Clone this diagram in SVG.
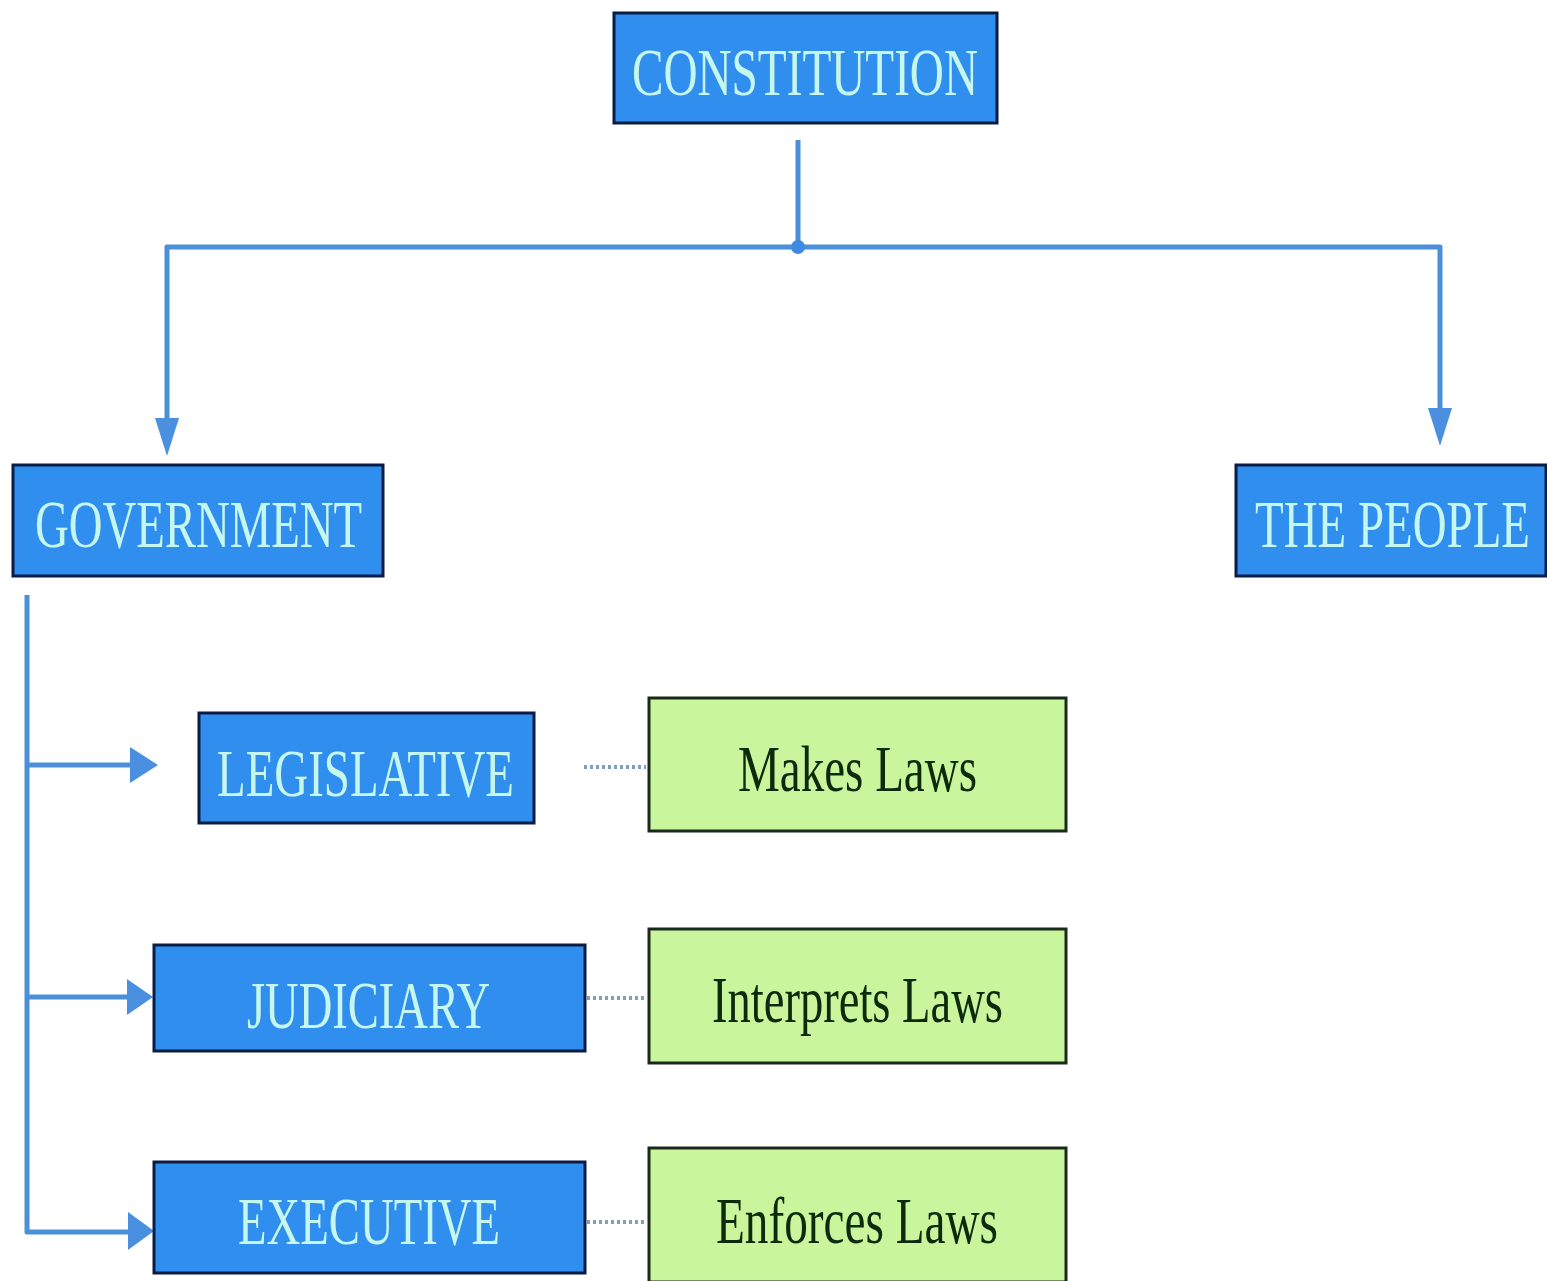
<svg xmlns="http://www.w3.org/2000/svg" width="1547" height="1281" viewBox="0 0 1547 1281">
<style>
.b{fill:#2f8eee;stroke:#0b1c44;stroke-width:3}
.g{fill:#c9f59c;stroke:#1a2a1a;stroke-width:3}
.bt{font-family:"Liberation Serif","Times New Roman",serif;font-size:68px;fill:#c6f7ee}
.gt{font-family:"Liberation Serif","Times New Roman",serif;font-size:66px;fill:#0c2a0c}
.c{fill:none;stroke:#4a8fd8;stroke-width:5;stroke-linejoin:round}
.d{fill:none;stroke:#7f9fbf;stroke-width:4;stroke-dasharray:3 3}
.ah{fill:#4a8fe0}
</style>
<rect width="1547" height="1281" fill="#ffffff"/>
<g id="connectors">
<path class="c" d="M798 140 V247"/>
<path class="c" d="M167 420 V247 H1440 V410"/>
<circle cx="798" cy="247" r="7" fill="#3f8ae0"/>
<polygon class="ah" points="155,418 179,418 167,456"/>
<polygon class="ah" points="1428,408 1452,408 1440,446"/>
<path class="c" d="M27 595 V1232 H135"/>
<path class="c" d="M27 765 H135"/>
<path class="c" d="M27 997 H132"/>
<polygon class="ah" points="130,747 130,783 158,765"/>
<polygon class="ah" points="127,979 127,1015 153,997"/>
<polygon class="ah" points="128,1212 128,1250 154,1231"/>
<path class="d" d="M584 767 H646"/>
<path class="d" d="M587 998 H646"/>
<path class="d" d="M587 1222 H646"/>
</g>
<g id="constitution">
<rect class="b" x="614" y="13" width="383" height="110"/>
<text class="bt" x="632" y="95" textLength="346" lengthAdjust="spacingAndGlyphs">CONSTITUTION</text>
</g>
<g id="government">
<rect class="b" x="13" y="465" width="370" height="111"/>
<text class="bt" x="35" y="547" textLength="327" lengthAdjust="spacingAndGlyphs">GOVERNMENT</text>
</g>
<g id="the-people">
<rect class="b" x="1236" y="465" width="310" height="111"/>
<text class="bt" transform="translate(1392.5,547) scale(0.69,1)" x="0" y="0" text-anchor="middle">THE PEOPLE</text>
</g>
<g id="legislative">
<rect class="b" x="199" y="713" width="335" height="110"/>
<text class="bt" x="217" y="796" textLength="297" lengthAdjust="spacingAndGlyphs">LEGISLATIVE</text>
</g>
<g id="judiciary">
<rect class="b" x="154" y="945" width="431" height="106"/>
<text class="bt" x="247" y="1028" textLength="243" lengthAdjust="spacingAndGlyphs">JUDICIARY</text>
</g>
<g id="executive">
<rect class="b" x="154" y="1162" width="431" height="111"/>
<text class="bt" x="238" y="1244" textLength="262" lengthAdjust="spacingAndGlyphs">EXECUTIVE</text>
</g>
<g id="makes-laws">
<rect class="g" x="649" y="698" width="417" height="133"/>
<text class="gt" x="738" y="791" textLength="239" lengthAdjust="spacingAndGlyphs">Makes Laws</text>
</g>
<g id="interprets-laws">
<rect class="g" x="649" y="929" width="417" height="134"/>
<text class="gt" x="712" y="1022" textLength="291" lengthAdjust="spacingAndGlyphs">Interprets Laws</text>
</g>
<g id="enforces-laws">
<rect class="g" x="649" y="1148" width="417" height="134"/>
<text class="gt" x="716" y="1243" textLength="282" lengthAdjust="spacingAndGlyphs">Enforces Laws</text>
</g>
</svg>
